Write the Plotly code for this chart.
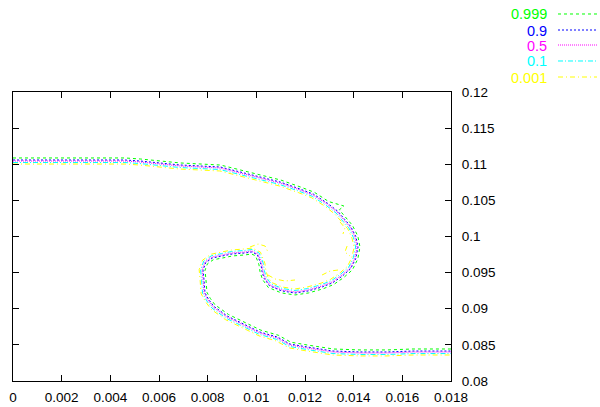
import plotly.graph_objects as go

# Contour levels of the volume fraction and their line styles
LEVELS = ["0.999", "0.9", "0.5", "0.1", "0.001"]
COLORS = ["#00ff00", "#0000ff", "#ff00ff", "#00ffff", "#ffff00"]
DASHES = ["3px,3px", "2px,2px", "1px,1px", "5px,2px,1px,2px", "5px,3px,1px,3px"]

X_TICKS = [0, 0.002, 0.004, 0.006, 0.008, 0.01, 0.012, 0.014, 0.016, 0.018]
Y_TICKS = [0.08, 0.085, 0.09, 0.095, 0.1, 0.105, 0.11, 0.115, 0.12]

# Level 0.999
X_999 = [0, 0.00193, 0.00460, 0.00523, 0.00687, 0.00853, 0.00936, 0.01018, 0.01101, 0.01183,
         0.01239, 0.01297, 0.01360, 0.01341, 0.01369, 0.01395, 0.01417, 0.01426, 0.01417, 0.01395,
         0.01360, 0.01317, 0.01274, 0.01215, 0.01159, 0.01102, 0.01049, 0.01025, 0.01015, 0.01011,
         0.00997, 0.00980, 0.00954, 0.00902, 0.00862, 0.00823, 0.00799, 0.00789, 0.00793, 0.00797,
         0.00811, 0.00830, 0.00885, 0.00967, 0.01019, 0.01090, 0.01142, 0.01210, 0.01264, 0.01316,
         0.01426, 0.01537, 0.01644, 0.01800]
Y_999 = [0.11087, 0.11087, 0.11087, 0.11073, 0.11018, 0.10989, 0.10919, 0.10850, 0.10781, 0.10683,
         0.10611, 0.10484, 0.10422, 0.10369, 0.10255, 0.10154, 0.10007, 0.09855, 0.09689, 0.09539,
         0.09434, 0.09334, 0.09276, 0.09219, 0.09191, 0.09220, 0.09295, 0.09407, 0.09515, 0.09607,
         0.09733, 0.09758, 0.09745, 0.09731, 0.09703, 0.09678, 0.09622, 0.09531, 0.09402, 0.09228,
         0.09143, 0.09055, 0.08922, 0.08784, 0.08703, 0.08634, 0.08537, 0.08498, 0.08470, 0.08443,
         0.08430, 0.08430, 0.08443, 0.08443]

# Level 0.9
X_9 = [0, 0.00193, 0.00460, 0.00522, 0.00686, 0.00852, 0.00934, 0.01016, 0.01098, 0.01180,
       0.01235, 0.01292, 0.01335, 0.01363, 0.01388, 0.01409, 0.01418, 0.01409, 0.01388, 0.01355,
       0.01313, 0.01271, 0.01213, 0.01159, 0.01104, 0.01054, 0.01032, 0.01023, 0.01019, 0.01004,
       0.00981, 0.00953, 0.00901, 0.00860, 0.00820, 0.00792, 0.00781, 0.00785, 0.00789, 0.00804,
       0.00825, 0.00881, 0.00964, 0.01016, 0.01087, 0.01139, 0.01209, 0.01263, 0.01315, 0.01426,
       0.01537, 0.01644, 0.01800]
Y_9 = [0.11059, 0.11059, 0.11059, 0.11045, 0.10990, 0.10962, 0.10892, 0.10823, 0.10754, 0.10657,
       0.10586, 0.10461, 0.10349, 0.10237, 0.10139, 0.09998, 0.09855, 0.09698, 0.09556, 0.09456,
       0.09358, 0.09302, 0.09246, 0.09218, 0.09247, 0.09318, 0.09420, 0.09520, 0.09615, 0.09750,
       0.09785, 0.09772, 0.09758, 0.09730, 0.09703, 0.09639, 0.09534, 0.09399, 0.09221, 0.09128,
       0.09034, 0.08898, 0.08759, 0.08677, 0.08608, 0.08511, 0.08471, 0.08443, 0.08415, 0.08402,
       0.08402, 0.08415, 0.08415]

# Level 0.5 (interface)
X_5 = [0, 0.00193, 0.00460, 0.00522, 0.00686, 0.00851, 0.00933, 0.01015, 0.01097, 0.01179,
       0.01233, 0.01290, 0.01332, 0.01360, 0.01385, 0.01405, 0.01414, 0.01405, 0.01385, 0.01352,
       0.01311, 0.01270, 0.01212, 0.01159, 0.01105, 0.01056, 0.01036, 0.01027, 0.01023, 0.01007,
       0.00982, 0.00953, 0.00900, 0.00859, 0.00818, 0.00789, 0.00777, 0.00781, 0.00785, 0.00801,
       0.00822, 0.00879, 0.00962, 0.01015, 0.01085, 0.01138, 0.01208, 0.01262, 0.01315, 0.01426,
       0.01537, 0.01644, 0.01800]
Y_5 = [0.11045, 0.11045, 0.11045, 0.11031, 0.10976, 0.10948, 0.10879, 0.10810, 0.10741, 0.10644,
       0.10574, 0.10450, 0.10339, 0.10228, 0.10132, 0.09993, 0.09855, 0.09702, 0.09564, 0.09467,
       0.09370, 0.09315, 0.09260, 0.09232, 0.09260, 0.09329, 0.09426, 0.09523, 0.09619, 0.09758,
       0.09799, 0.09786, 0.09772, 0.09744, 0.09716, 0.09647, 0.09536, 0.09398, 0.09218, 0.09121,
       0.09024, 0.08886, 0.08747, 0.08664, 0.08595, 0.08498, 0.08457, 0.08429, 0.08401, 0.08388,
       0.08388, 0.08401, 0.08401]

# Level 0.1
X_1 = [0, 0.00193, 0.00460, 0.00521, 0.00685, 0.00850, 0.00932, 0.01014, 0.01095, 0.01177,
       0.01230, 0.01286, 0.01328, 0.01355, 0.01380, 0.01399, 0.01408, 0.01399, 0.01380, 0.01348,
       0.01308, 0.01268, 0.01211, 0.01159, 0.01107, 0.01060, 0.01041, 0.01033, 0.01029, 0.01012,
       0.00983, 0.00952, 0.00899, 0.00858, 0.00816, 0.00784, 0.00771, 0.00775, 0.00779, 0.00796,
       0.00818, 0.00876, 0.00959, 0.01013, 0.01083, 0.01136, 0.01207, 0.01261, 0.01315, 0.01426,
       0.01537, 0.01644, 0.01800]
Y_1 = [0.11024, 0.11024, 0.11024, 0.11010, 0.10955, 0.10927, 0.10859, 0.10790, 0.10721, 0.10625,
       0.10556, 0.10433, 0.10324, 0.10214, 0.10121, 0.09986, 0.09855, 0.09709, 0.09577, 0.09483,
       0.09388, 0.09335, 0.09280, 0.09253, 0.09280, 0.09346, 0.09435, 0.09527, 0.09625, 0.09771,
       0.09820, 0.09807, 0.09793, 0.09764, 0.09735, 0.09660, 0.09538, 0.09396, 0.09213, 0.09110,
       0.09008, 0.08868, 0.08728, 0.08645, 0.08576, 0.08478, 0.08436, 0.08408, 0.08380, 0.08367,
       0.08367, 0.08380, 0.08380]

# Level 0.001 (main contour)
X_001 = [0, 0.00193, 0.00460, 0.00521, 0.00685, 0.00850, 0.00930, 0.01012, 0.01093, 0.01175,
         0.01227, 0.01283, 0.01323, 0.01351, 0.01375, 0.01393, 0.01402, 0.01393, 0.01375, 0.01345,
         0.01305, 0.01266, 0.01209, 0.01159, 0.01108, 0.01063, 0.01047, 0.01039, 0.01035, 0.01017,
         0.00984, 0.00952, 0.00898, 0.00857, 0.00813, 0.00779, 0.00765, 0.00769, 0.00773, 0.00791,
         0.00814, 0.00873, 0.00957, 0.01011, 0.01080, 0.01134, 0.01206, 0.01260, 0.01314, 0.01426,
         0.01537, 0.01644, 0.01800]
Y_001 = [0.11003, 0.11003, 0.11003, 0.10989, 0.10934, 0.10907, 0.10839, 0.10770, 0.10701, 0.10605,
         0.10537, 0.10416, 0.10309, 0.10201, 0.10110, 0.09979, 0.09855, 0.09715, 0.09589, 0.09500,
         0.09407, 0.09354, 0.09301, 0.09274, 0.09300, 0.09363, 0.09445, 0.09531, 0.09631, 0.09783,
         0.09840, 0.09828, 0.09813, 0.09785, 0.09754, 0.09672, 0.09541, 0.09394, 0.09208, 0.09099,
         0.08993, 0.08850, 0.08710, 0.08625, 0.08556, 0.08459, 0.08416, 0.08388, 0.08360, 0.08347,
         0.08347, 0.08360, 0.08360]

# Small detached pieces of the 0.001 level inside the roll-up
ISLANDS_X = [
    [0.00974, 0.01007, 0.01036, 0.01048],
    [0.01048, 0.01077, 0.01118, 0.01159],
    [0.01270, 0.01303, 0.01336],
    [0.01344, 0.01364, 0.01356],
    [0.01373, 0.01364, 0.01385],
]
ISLANDS_Y = [
    [0.09855, 0.09896, 0.09868, 0.09785],
    [0.09467, 0.09412, 0.09384, 0.09398],
    [0.09467, 0.09522, 0.09536],
    [0.10201, 0.10118, 0.10035],
    [0.09868, 0.09785, 0.09730],
]

SERIES_X = [X_999, X_9, X_5, X_1, X_001]
SERIES_Y = [Y_999, Y_9, Y_5, Y_1, Y_001]

FONT = "Liberation Sans, Arial, sans-serif"

fig = go.Figure()
for lx, ly, color, dash in zip(SERIES_X, SERIES_Y, COLORS, DASHES):
    fig.add_trace(go.Scatter(x=lx, y=ly, mode="lines",
                             line=dict(color=color, width=1, dash=dash),
                             hoverinfo="skip", showlegend=False))

# detached fragments joined with gaps
ix, iy = [], []
for px, py in zip(ISLANDS_X, ISLANDS_Y):
    ix += px + [None]
    iy += py + [None]
fig.add_trace(go.Scatter(x=ix, y=iy, mode="lines",
                         line=dict(color=COLORS[-1], width=1, dash=DASHES[-1]),
                         hoverinfo="skip", showlegend=False))

axis_common = dict(showgrid=False, zeroline=False, showline=True, linecolor="#000000",
                   linewidth=1, ticks="inside", ticklen=6, tickcolor="#000000",
                   mirror="ticks", automargin=False,
                   tickfont=dict(family=FONT, size=13.5, color="#000000"))

fig.update_layout(
    width=600, height=407,
    margin=dict(l=13, r=149, t=92, b=26),
    paper_bgcolor="white", plot_bgcolor="white",
    xaxis=dict(range=[0, 0.018], tickvals=X_TICKS, ticklabelstandoff=4,
               ticktext=[f"{v:g}" for v in X_TICKS], **axis_common),
    yaxis=dict(range=[0.08, 0.12], side="right", tickvals=Y_TICKS, ticklabelstandoff=7,
               ticktext=[f"{v:g}" for v in Y_TICKS], **axis_common),
)

# Key in the top-right corner: label to the left of its line sample
row_y = [1.2699, 1.2145, 1.1626, 1.1073, 1.0519]
for label, color, dash, yy in zip(LEVELS, COLORS, DASHES, row_y):
    fig.add_annotation(x=1.2215, y=yy, xref="paper", yref="paper", text=label,
                       showarrow=False, xanchor="right", yanchor="middle",
                       height=13, valign="middle", borderpad=0,
                       font=dict(family=FONT, size=14.5, color=color))
    fig.add_shape(type="line", xref="paper", yref="paper", x0=1.2443, x1=1.3333,
                  y0=yy, y1=yy, line=dict(color=color, width=1, dash=dash))

fig.write_html("out.html")
